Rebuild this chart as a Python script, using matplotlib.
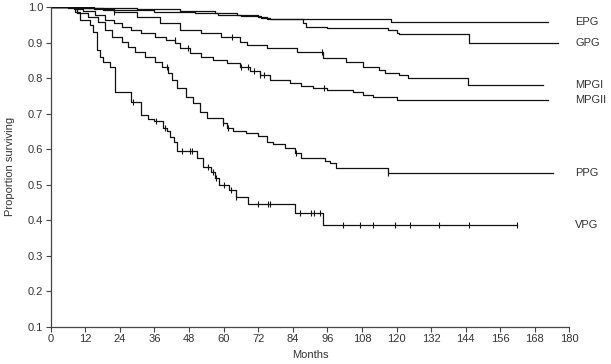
import numpy as np
import matplotlib
matplotlib.use('Agg')
import matplotlib.pyplot as plt

# Kaplan-Meier style curves (months, proportion surviving)
groups = ['EPG', 'GPG', 'MPGI', 'MPGII', 'PPG', 'VPG']

epg_t = [0, 12, 30, 45, 57, 64.5, 72, 75, 118, 172.5]
epg_s = [1.0, 0.997, 0.994, 0.99, 0.983, 0.978, 0.974, 0.967, 0.958, 0.958]

gpg_t = [0, 6, 18, 36, 50, 58, 66, 73, 76, 87.6, 88.7, 95.7, 117, 120, 121, 145.3, 176]
gpg_s = [1.0, 0.997, 0.992, 0.988, 0.983, 0.979, 0.975, 0.97, 0.966, 0.955, 0.945, 0.941,
         0.936, 0.928, 0.924, 0.9, 0.9]

mpg1_t = [0, 15, 22, 30, 38, 45, 52, 59, 65.6, 68, 75, 85.3, 94.5, 102.6, 108.4, 114, 116,
          121, 124, 144.7, 170.7]
mpg1_s = [1.0, 0.995, 0.988, 0.974, 0.955, 0.936, 0.927, 0.917, 0.903, 0.894, 0.885, 0.875,
          0.856, 0.847, 0.833, 0.823, 0.814, 0.809, 0.801, 0.781, 0.781]

mpg2_t = [0, 8, 11.3, 15.4, 18.8, 22, 24.6, 28, 31.5, 36.2, 40, 43.1, 45, 48.3, 52, 56.3, 61,
          65.6, 69, 72.5, 76, 82.9, 87, 91, 95.7, 104.9, 108.4, 112, 120, 172.5]
mpg2_s = [1.0, 0.996, 0.99, 0.978, 0.964, 0.955, 0.945, 0.936, 0.927, 0.917, 0.908, 0.898,
          0.884, 0.87, 0.861, 0.852, 0.843, 0.833, 0.821, 0.809, 0.795, 0.786, 0.779, 0.772,
          0.767, 0.762, 0.753, 0.746, 0.739, 0.739]

ppg_t = [0, 9, 13, 16.5, 18.8, 21.1, 24.6, 26.9, 29.2, 32.7, 36.2, 38.5, 40.8, 42, 43.7, 47.1,
         49.4, 51.8, 54.1, 59.8, 61, 63.3, 67.9, 72, 74.9, 77.2, 81.2, 84.7, 87, 95.1, 96.8,
         99.1, 117, 174.2]
ppg_s = [1.0, 0.985, 0.974, 0.959, 0.936, 0.917, 0.903, 0.889, 0.875, 0.861, 0.847, 0.833,
         0.814, 0.795, 0.772, 0.748, 0.73, 0.706, 0.687, 0.675, 0.659, 0.65, 0.645, 0.637,
         0.621, 0.614, 0.603, 0.589, 0.575, 0.567, 0.56, 0.546, 0.532, 0.532]

vpg_t = [0, 8.4, 10.2, 13.6, 14.5, 15.9, 17, 18.1, 20.5, 22.3, 28, 31.5, 33.8, 35.8, 38.9,
         40.2, 41.5, 42.7, 43.7, 50.6, 52.9, 55.5, 57, 58.5, 61.7, 64.3, 68.5, 84.7, 94.5,
         161.7]
vpg_s = [1.0, 0.988, 0.964, 0.95, 0.93, 0.88, 0.86, 0.847, 0.833, 0.762, 0.733, 0.697, 0.686,
         0.678, 0.66, 0.65, 0.635, 0.62, 0.595, 0.575, 0.551, 0.537, 0.52, 0.5, 0.485, 0.466,
         0.445, 0.42, 0.385, 0.385]

# censored observations (months)
mpg1_c = [22, 63, 94]
mpg2_c = [43, 47.5, 66, 68.5, 70.5, 72.5, 74, 95]
ppg_c = [40.5, 59.8, 61.5, 85, 117.2]
vpg_c = [28.6, 36.7, 39.6, 45.4, 48.4, 48.9, 54.6, 56.3, 57.5, 60, 62.5, 64.3, 72, 75.5,
         76.2, 86.6, 90.4, 91.2, 93.3, 101.4, 107.4, 112, 119.6, 124.8, 134.6, 145.1, 161.7]

curves = [(epg_t, epg_s, []), (gpg_t, gpg_s, []), (mpg1_t, mpg1_s, mpg1_c),
          (mpg2_t, mpg2_s, mpg2_c), (ppg_t, ppg_s, ppg_c), (vpg_t, vpg_s, vpg_c)]

plt.rcParams['font.family'] = ['Liberation Sans', 'DejaVu Sans']
txt_col = '#333333'

fig = plt.figure(figsize=(6.11, 3.64), dpi=100)
ax = fig.add_axes([0.083, 0.103, 0.849, 0.877])

for name, (t, s, cens) in zip(groups, curves):
    ax.step(t, s, where='post', color='#111111', lw=0.9)
    if cens:
        t_arr = np.array(t)
        s_arr = np.array(s)
        idx = np.searchsorted(t_arr, cens, side='right') - 1
        ax.plot(cens, s_arr[idx], ls='none', marker='|', ms=4.5, mew=0.8, color='#111111')
    # group label to the right of the curve
    ax.text(182, s[-1], name, fontsize=8, color=txt_col, va='center', ha='left',
            clip_on=False)

ax.set_xlim(0, 180)
ax.set_ylim(0.1, 1.0)
ax.set_xticks(np.arange(0, 181, 12))
ax.set_yticks(np.arange(0.1, 1.01, 0.1))
ax.set_yticklabels(['%.1f' % v for v in np.arange(0.1, 1.01, 0.1)])

for sp in ['top', 'right']:
    ax.spines[sp].set_visible(False)
for sp in ['left', 'bottom']:
    ax.spines[sp].set_color('#444444')
    ax.spines[sp].set_linewidth(0.9)

ax.tick_params(direction='out', length=3.5, width=0.8, colors='#444444',
               labelsize=8, labelcolor=txt_col, pad=2)
ax.set_xlabel('Months', fontsize=8, color=txt_col, labelpad=4)
ax.set_ylabel('Proportion surviving', fontsize=8, color=txt_col, labelpad=9)

fig.savefig('out.png', dpi=100)
